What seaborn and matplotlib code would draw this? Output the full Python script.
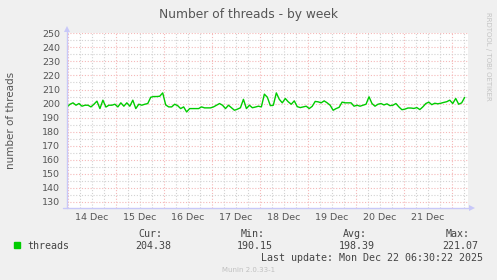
import numpy as np
import pandas as pd
import matplotlib
matplotlib.use("Agg")
import matplotlib.pyplot as plt
import matplotlib.dates as mdates
from matplotlib.ticker import MultipleLocator, FuncFormatter, NullFormatter
from matplotlib.patches import Rectangle
import seaborn as sns

# ---------------- data ----------------
threads = [
    197.6, 199.5, 200.5, 198.8, 200.0, 198.1, 198.8, 198.8, 197.6, 199.5,
    201.7, 196.4, 202.4, 197.5, 198.8, 198.8, 199.5, 197.6, 200.5, 198.1,
    200.5, 198.1, 202.4, 196.4, 199.5, 198.8, 199.5, 200.0, 204.5, 205.0,
    205.0, 205.2, 207.6, 199.0, 197.6, 197.6, 199.5, 198.5, 196.4, 197.6,
    194.0, 196.4, 196.4, 196.4, 196.4, 197.6, 196.9, 196.9, 196.9, 197.6,
    198.8, 200.0, 198.8, 196.4, 198.8, 197.0, 195.2, 196.0, 197.0, 203.0,
    196.4, 198.8, 197.0, 197.5, 198.1, 197.6, 206.7, 204.5, 198.5, 198.8,
    207.6, 203.0, 200.5, 203.6, 201.2, 199.5, 201.9, 197.8, 197.1, 197.6,
    198.1, 196.4, 198.0, 201.5, 201.2, 200.5, 201.9, 200.5, 198.8, 195.2,
    196.4, 197.3, 201.0, 200.5, 200.5, 200.5, 198.1, 198.8, 198.1, 198.8,
    199.5, 204.8, 200.0, 198.1, 199.5, 200.0, 199.0, 199.8, 198.5, 198.8,
    200.0, 197.6, 195.6, 196.0, 196.8, 196.8, 196.5, 197.1, 195.7, 197.6,
    200.0, 201.0, 199.2, 200.2, 199.8, 200.2, 200.8, 201.3, 202.4, 200.0,
    203.6, 199.5, 200.5, 204.4,
]
start_time = "2025-12-13 23:40"
end_time = "2025-12-22 06:30"
first_day = "2025-12-14 00:00"

title = "Number of threads - by week"
ylabel = "number of threads"
series_name = "threads"
stat_labels = ["Cur:", "Min:", "Avg:", "Max:"]
stat_values = ["204.38", "190.15", "198.39", "221.07"]
last_update = "Last update: Mon Dec 22 06:30:22 2025"
watermark = "Munin 2.0.33-1"
side_text = "RRDTOOL / TOBI OETIKER"

times = pd.date_range(start_time, end_time, periods=len(threads))
df = pd.DataFrame({"time": times, "threads": threads})

# ---------------- style ----------------
sns.set_style("white")
plt.rcParams["font.family"] = ["DejaVu Sans"]

W, H = 497, 280
fig = plt.figure(figsize=(W / 100, H / 100), dpi=100, facecolor="#F0F0F0")
L, R, T, B = 67, 468, 33, 208
ax = fig.add_axes([L / W, 1 - B / H, (R - L) / W, (B - T) / H])
ax.set_facecolor("white")

sns.lineplot(data=df, x="time", y="threads", ax=ax, color="#00CC00",
             linewidth=1.0, zorder=3)

ax.set_ylim(125.5, 250.3)
d0 = mdates.date2num(pd.Timestamp(first_day))
ax.set_xlim(d0 - 0.0146, d0 + 8.34)

ax.yaxis.set_major_locator(MultipleLocator(10))
ax.yaxis.set_minor_locator(MultipleLocator(5))
ax.xaxis.set_major_locator(mdates.DayLocator())
ax.xaxis.set_major_formatter(NullFormatter())
ax.xaxis.set_minor_locator(mdates.HourLocator(byhour=[6, 12, 18]))


def day_label(v, pos):
    d = mdates.num2date(v)
    return f"{d.day} Dec" if d.hour == 12 else ""


ax.xaxis.set_minor_formatter(FuncFormatter(day_label))

major_col = "#F5B8B8"
minor_col = "#D2D2D2"
ax.grid(which="major", color=major_col, linestyle=(0, (1, 1.6)), linewidth=0.8)
ax.grid(which="minor", color=minor_col, linestyle=(0, (1, 1.6)), linewidth=0.8)
ax.set_axisbelow(True)

ax.tick_params(axis="x", which="major", length=2.2, width=0.8, color="#F08080",
               direction="out")
ax.tick_params(axis="x", which="minor", length=0, pad=3.5, labelsize=6.8,
               labelcolor="#555555")
ax.tick_params(axis="y", which="major", length=1.6, width=0.8, color="#F08080",
               direction="out", pad=3.2, labelsize=6.8, labelcolor="#555555")
ax.tick_params(axis="y", which="minor", length=0)
ax.set_xlabel("")
ax.set_ylabel("")

for s in ax.spines.values():
    s.set_visible(False)

# axis lines with arrows (Munin style)
axis_col = "#C8C8F8"
w_ax = R - L
h_ax = B - T
ax.plot([0, 0], [0, (B - 31) / h_ax], transform=ax.transAxes, color=axis_col,
        linewidth=1.0, clip_on=False, zorder=4)
ax.plot([(63 - L) / w_ax, (470 - L) / w_ax], [0, 0], transform=ax.transAxes,
        color=axis_col, linewidth=1.0, clip_on=False, zorder=4)
ax.plot([0], [(B - 29) / h_ax], marker="^", markersize=4, color=axis_col,
        transform=ax.transAxes, clip_on=False, zorder=4, markeredgewidth=0)
ax.plot([(471.5 - L) / w_ax], [0], marker=">", markersize=4, color=axis_col,
        transform=ax.transAxes, clip_on=False, zorder=4, markeredgewidth=0)

# ---------------- texts ----------------
def fy(py):
    return 1 - py / H


fig.text(248.7 / W, fy(17.7), title, ha="center", va="baseline",
         fontsize=8.8, color="#555555")
fig.text(10.8 / W, fy(120), ylabel, ha="center", va="center", rotation=90,
         fontsize=7.5, color="#555555")
fig.text(488 / W, fy(56.5), side_text, ha="center", va="center", rotation=270,
         fontsize=5.0, color="#C4C4C4")

mono = "DejaVu Sans Mono"
fig.add_artist(Rectangle((14 / W, fy(248.3)), 6 / W, 6 / H,
                         transform=fig.transFigure, color="#00CC00"))
fig.text(27 / W, fy(249.2), series_name, ha="left", va="baseline",
         fontsize=7.2, family=mono, color="#444444")

label_right = [162, 265, 367, 470]
value_right = [171, 273, 375, 478]
for lab, val, lr, vr in zip(stat_labels, stat_values, label_right, value_right):
    fig.text(lr / W, fy(236.7), lab, ha="right", va="baseline",
             fontsize=7.2, family=mono, color="#444444")
    fig.text(vr / W, fy(249.2), val, ha="right", va="baseline",
             fontsize=7.2, family=mono, color="#444444")

fig.text(483.3 / W, fy(260.7), last_update, ha="right", va="baseline",
         fontsize=7.2, family=mono, color="#444444")
fig.text(248.3 / W, fy(271.5), watermark, ha="center", va="baseline",
         fontsize=5.0, color="#C0C0C0")

fig.savefig("out.png", dpi=100, facecolor=fig.get_facecolor())
